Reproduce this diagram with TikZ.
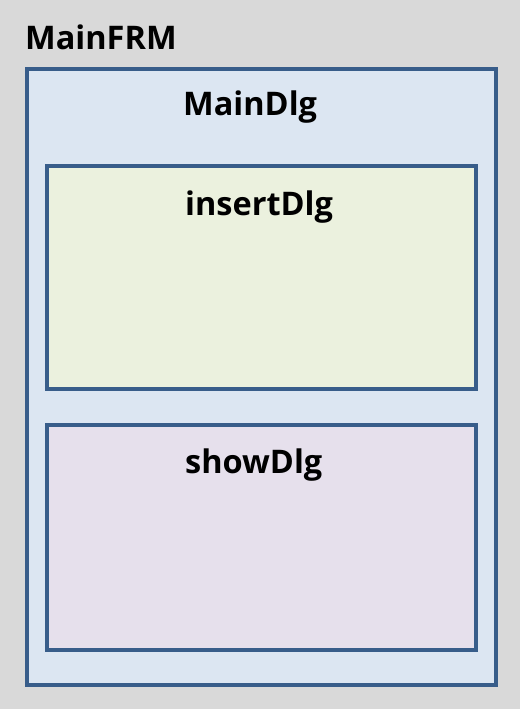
\documentclass[tikz,border=0pt]{standalone}
\usepackage{fontspec}
\setmainfont{Open Sans}
\usetikzlibrary{positioning}
\definecolor{frmgray}{HTML}{D9D9D9}
\definecolor{dlgborder}{HTML}{385D8A}
\definecolor{dlgblue}{HTML}{DCE6F2}
\definecolor{dlggreen}{HTML}{EBF1DE}
\definecolor{dlgpurple}{HTML}{E6E0EC}
\tikzset{
    dlgbox/.style={draw=dlgborder, line width=3.6pt},
    dlglabel/.style={anchor=base west, inner sep=0pt, font=\fontsize{32.5}{38}\selectfont\bfseries}
}

\begin{document}
\begin{tikzpicture}[x=1pt, y=-1pt]
    \fill[frmgray] (0, 0) rectangle (520, 709);
    \useasboundingbox (0, 0) rectangle (520, 709);
    \node[dlglabel] (lfrm) at (25, 50) {MainFRM};

    \draw[dlgbox, fill=dlgblue] (27, 69) rectangle (496, 685);
    \node[dlglabel] (lmain) at (183, 115) {MainDlg};

    \draw[dlgbox, fill=dlggreen] (47, 166) rectangle (476, 389);
    \node[dlglabel] (linsert) at (185, 215) {insertDlg};

    \draw[dlgbox, fill=dlgpurple] (47, 425) rectangle (476, 650);
    \node[dlglabel] (lshow) at (185, 473) {showDlg};
\end{tikzpicture}
\end{document}
